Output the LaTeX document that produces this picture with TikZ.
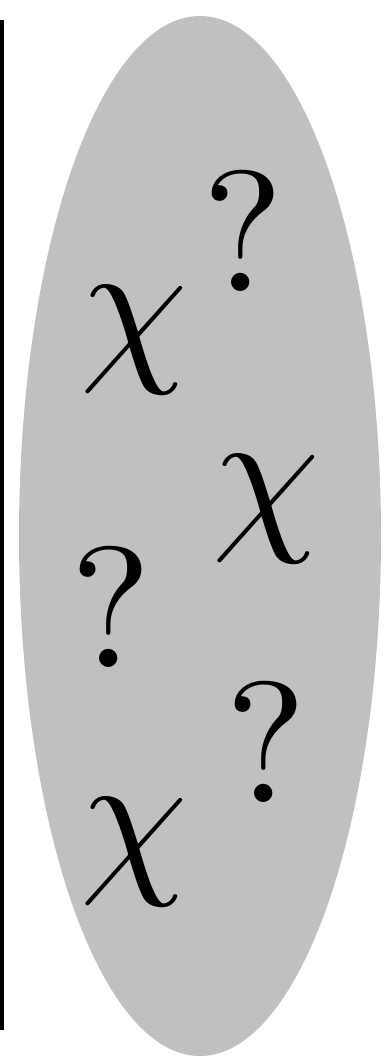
\documentclass[tikz,border=0pt]{standalone}
\usepackage{graphicx}
\newcommand{\bigglyph}[1]{\scalebox{17.2}{#1}}
\begin{document}
\begin{tikzpicture}[x=1pt,y=-1pt,
  glyph/.style={inner sep=0pt, outer sep=0pt, font=\fontsize{10}{10}\selectfont}]
\useasboundingbox (0,0) rectangle (385,1057);
\fill[fill={rgb,255:red,192;green,192;blue,192}] (200,536) ellipse [x radius=181, y radius=520];
\draw[line width=3.5pt] (1.75,20) coordinate (lt) -- (1.75,1030) coordinate (lb);
\node[glyph] (c1) at (134,340.5) {\bigglyph{$\chi$}};
\node[glyph] (q1) at (243,231) {\bigglyph{?}};
\node[glyph] (c2) at (266,509.5) {\bigglyph{$\chi$}};
\node[glyph] (q2) at (111,607) {\bigglyph{?}};
\node[glyph] (q3) at (266,742) {\bigglyph{?}};
\node[glyph] (c3) at (134,852) {\bigglyph{$\chi$}};
\end{tikzpicture}
\end{document}
